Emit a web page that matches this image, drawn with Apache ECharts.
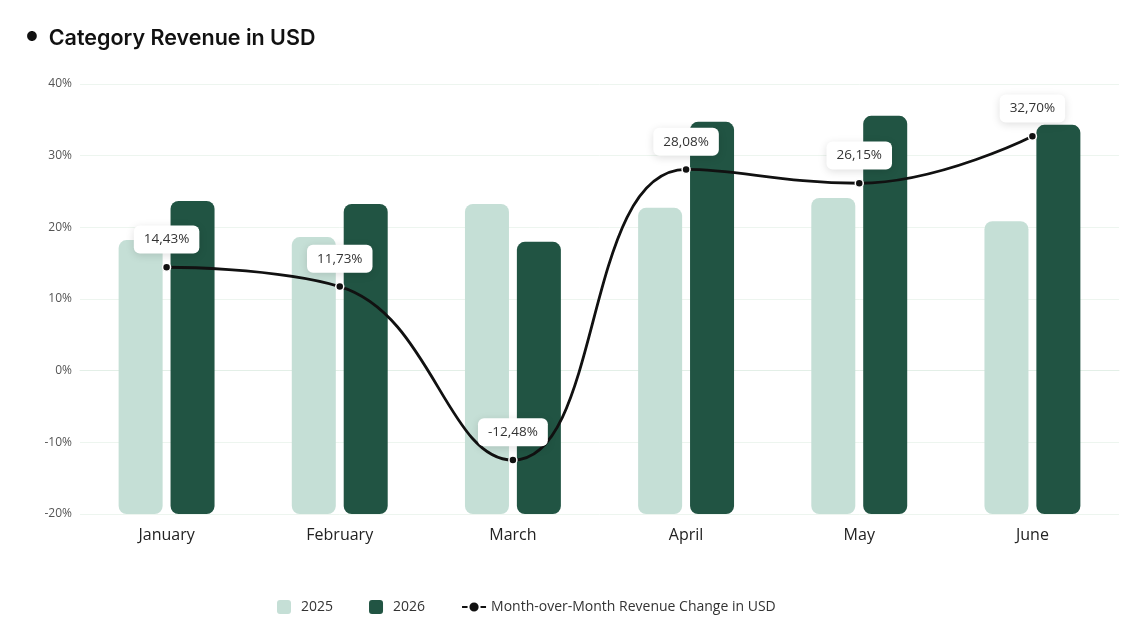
<!DOCTYPE html>
<html>
<head>
<meta charset="utf-8">
<script src="https://cdn.jsdelivr.net/npm/echarts@6/dist/echarts.min.js"></script>
<style>
    html, body { margin: 0; padding: 0; background: #fff; }
    #chart { width: 1148px; height: 623px; }
</style>
</head>
<body>
<div id="chart"></div>
<script>
// 数据
const months = ['January', 'February', 'March', 'April', 'May', 'June'];
const revenue2025 = [63.7, 64.4, 72.1, 71.2, 73.5, 68.1];
const revenue2026 = [72.8, 72.1, 63.3, 91.2, 92.6, 90.5];
const momChange = [14.43, 11.73, -12.48, 28.08, 26.15, 32.70];
const pctTicks = [-20, 40, 10];

const squareIcon = 'path://M3,0 H11 A3,3 0 0 1 14,3 V11 A3,3 0 0 1 11,14 H3 A3,3 0 0 1 0,11 V3 A3,3 0 0 1 3,0 Z';

let chart = echarts.init(document.getElementById('chart'));
drawChart(chart);

function drawChart(chart) {
    let option = {
        backgroundColor: '#fff',
        textStyle: { fontFamily: 'Open Sans' },
        title: {
            text: '{dot|●}  Category Revenue in USD',
            left: 21,
            top: 23,
            textStyle: {
                fontFamily: 'Inter',
                fontSize: 21.5,
                fontWeight: 600,
                color: '#111',
                rich: {
                    dot: { fontSize: 13, color: '#111', padding: [0, 0, 3, 0] }
                }
            }
        },
        legend: {
            bottom: 4,
            left: 272,
            itemWidth: 24,
            itemHeight: 14,
            itemGap: 36,
            textStyle: { fontSize: 14, color: '#333', fontFamily: 'Open Sans' },
            data: [
                { name: '2025', icon: squareIcon },
                { name: '2026', icon: squareIcon },
                { name: 'Month-over-Month Revenue Change in USD' }
            ]
        },
        grid: {
            left: 80,
            right: 29,
            top: 84,
            bottom: 109,
            containLabel: false
        },
        xAxis: {
            type: 'category',
            data: months,
            axisLine: { lineStyle: { color: '#e3efe7' } },
            axisTick: { show: false },
            axisLabel: { fontSize: 16, color: '#222', margin: 13 }
        },
        yAxis: [{
            type: 'value',
            min: pctTicks[0],
            max: pctTicks[1],
            interval: pctTicks[2],
            axisLabel: {
                formatter: '{value}%',
                fontSize: 12,
                color: '#555',
                margin: 8,
                padding: [4, 0, 0, 0]
            },
            splitLine: { lineStyle: { color: '#edf5ef' } },
            axisLine: { show: false },
            axisTick: { show: false }
        }, {
            type: 'value',
            min: 0,
            max: 100,
            show: false,
            splitLine: { show: false }
        }],
        series: [{
            name: '2025',
            type: 'bar',
            yAxisIndex: 1,
            data: revenue2025,
            barWidth: 44,
            barGap: '18%',
            itemStyle: { color: '#c5dfd6', borderRadius: 8 }
        }, {
            name: '2026',
            type: 'bar',
            yAxisIndex: 1,
            data: revenue2026,
            barWidth: 44,
            itemStyle: { color: '#215443', borderRadius: 8 }
        }, {
            name: 'Month-over-Month Revenue Change in USD',
            type: 'line',
            yAxisIndex: 0,
            data: momChange,
            smooth: 0.45,
            z: 5,
            symbol: 'circle',
            symbolSize: 8,
            lineStyle: { color: '#111', width: 2.8 },
            itemStyle: { color: '#111', borderColor: '#fff', borderWidth: 1.5 },
            label: {
                show: true,
                position: 'top',
                distance: 9,
                formatter: function(p) {
                    return p.value.toFixed(2).replace('.', ',') + '%';
                },
                fontSize: 13.5,
                color: '#333',
                backgroundColor: '#fff',
                borderRadius: 6,
                padding: [7, 10],
                shadowColor: 'rgba(0,0,0,0.13)',
                shadowBlur: 8,
                shadowOffsetY: 2
            }
        }]
    };
    chart.setOption(option);
}
</script>
</body>
</html>
